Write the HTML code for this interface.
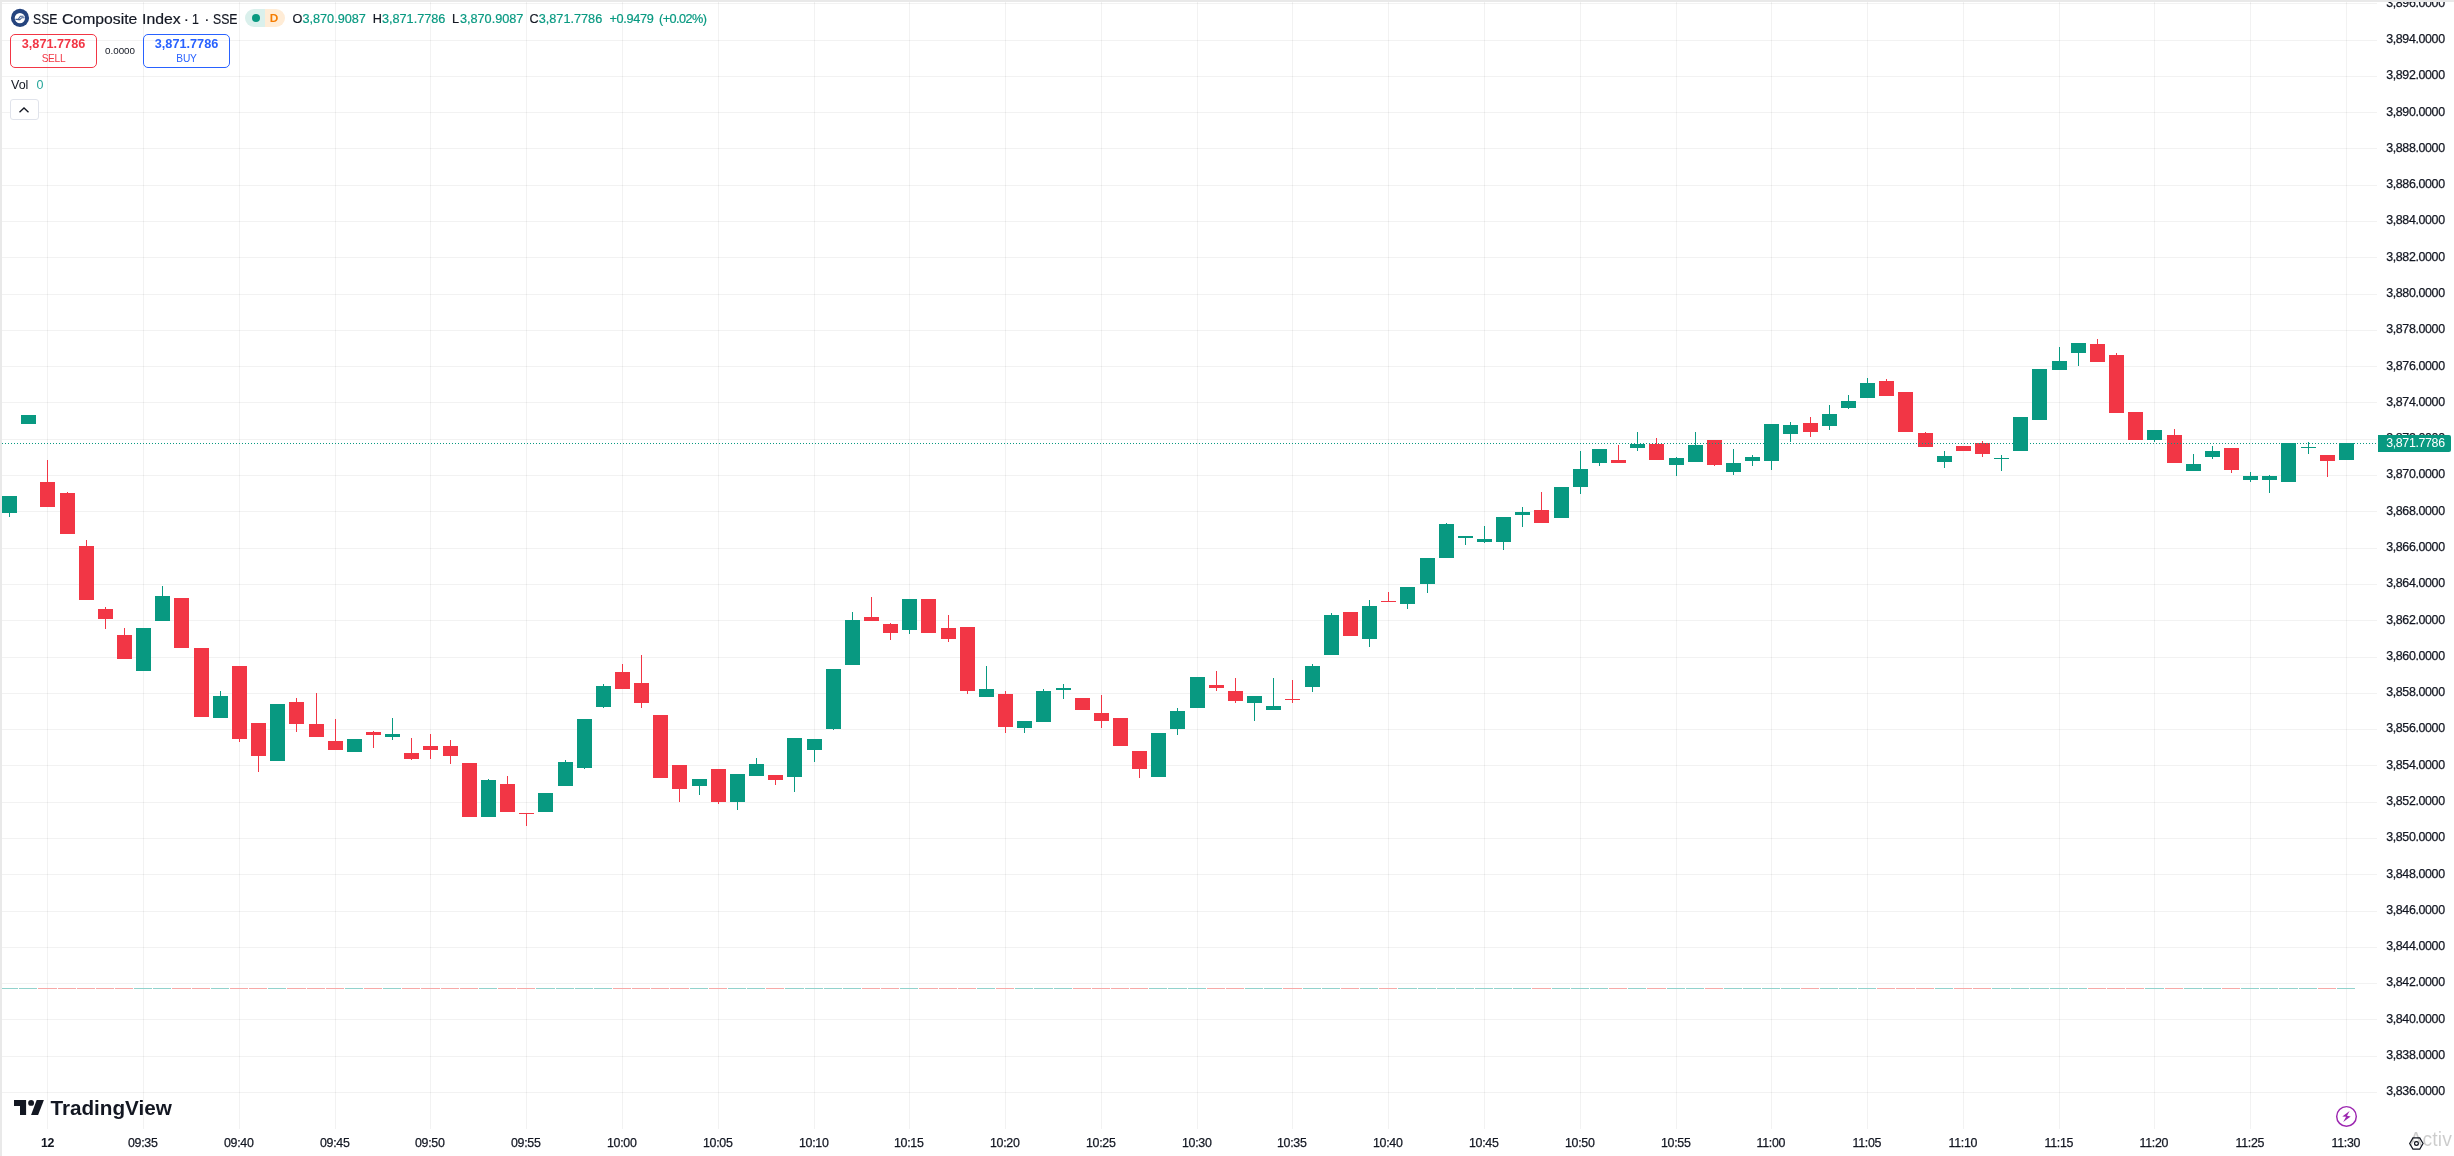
<!DOCTYPE html>
<html><head><meta charset="utf-8"><title>SSE Composite Index</title>
<style>

html,body{margin:0;padding:0;}
body{width:2454px;height:1156px;overflow:hidden;background:#fff;position:relative;
 font-family:"Liberation Sans",sans-serif;color:#131722;}
.abs{position:absolute;white-space:nowrap;}
.pl{position:absolute;left:2386px;width:60px;height:14px;line-height:14px;font-size:11.8px;color:#131722;white-space:nowrap;}
.tl{position:absolute;top:1135px;width:60px;height:16px;line-height:16px;font-size:11.8px;text-align:center;color:#131722;white-space:nowrap;}
.lg{position:absolute;top:10px;height:16px;line-height:16px;font-size:12.5px;white-space:nowrap;}
.g{color:#089981;}
svg{position:absolute;left:0;top:0;}

</style></head><body>
<svg width="2454" height="1156" viewBox="0 0 2454 1156" shape-rendering="crispEdges">
<g fill="#000" fill-opacity="0.052">
<rect x="2" y="3" width="2375" height="1"/>
<rect x="2" y="40" width="2375" height="1"/>
<rect x="2" y="76" width="2375" height="1"/>
<rect x="2" y="112" width="2375" height="1"/>
<rect x="2" y="148" width="2375" height="1"/>
<rect x="2" y="185" width="2375" height="1"/>
<rect x="2" y="221" width="2375" height="1"/>
<rect x="2" y="257" width="2375" height="1"/>
<rect x="2" y="294" width="2375" height="1"/>
<rect x="2" y="330" width="2375" height="1"/>
<rect x="2" y="366" width="2375" height="1"/>
<rect x="2" y="402" width="2375" height="1"/>
<rect x="2" y="439" width="2375" height="1"/>
<rect x="2" y="475" width="2375" height="1"/>
<rect x="2" y="511" width="2375" height="1"/>
<rect x="2" y="548" width="2375" height="1"/>
<rect x="2" y="584" width="2375" height="1"/>
<rect x="2" y="620" width="2375" height="1"/>
<rect x="2" y="657" width="2375" height="1"/>
<rect x="2" y="693" width="2375" height="1"/>
<rect x="2" y="729" width="2375" height="1"/>
<rect x="2" y="765" width="2375" height="1"/>
<rect x="2" y="802" width="2375" height="1"/>
<rect x="2" y="838" width="2375" height="1"/>
<rect x="2" y="874" width="2375" height="1"/>
<rect x="2" y="911" width="2375" height="1"/>
<rect x="2" y="947" width="2375" height="1"/>
<rect x="2" y="983" width="2375" height="1"/>
<rect x="2" y="1019" width="2375" height="1"/>
<rect x="2" y="1056" width="2375" height="1"/>
<rect x="2" y="1092" width="2375" height="1"/>
<rect x="47" y="2" width="1" height="1127"/>
<rect x="143" y="2" width="1" height="1127"/>
<rect x="239" y="2" width="1" height="1127"/>
<rect x="335" y="2" width="1" height="1127"/>
<rect x="430" y="2" width="1" height="1127"/>
<rect x="526" y="2" width="1" height="1127"/>
<rect x="622" y="2" width="1" height="1127"/>
<rect x="718" y="2" width="1" height="1127"/>
<rect x="814" y="2" width="1" height="1127"/>
<rect x="909" y="2" width="1" height="1127"/>
<rect x="1005" y="2" width="1" height="1127"/>
<rect x="1101" y="2" width="1" height="1127"/>
<rect x="1197" y="2" width="1" height="1127"/>
<rect x="1292" y="2" width="1" height="1127"/>
<rect x="1388" y="2" width="1" height="1127"/>
<rect x="1484" y="2" width="1" height="1127"/>
<rect x="1580" y="2" width="1" height="1127"/>
<rect x="1676" y="2" width="1" height="1127"/>
<rect x="1771" y="2" width="1" height="1127"/>
<rect x="1867" y="2" width="1" height="1127"/>
<rect x="1963" y="2" width="1" height="1127"/>
<rect x="2059" y="2" width="1" height="1127"/>
<rect x="2154" y="2" width="1" height="1127"/>
<rect x="2250" y="2" width="1" height="1127"/>
<rect x="2346" y="2" width="1" height="1127"/>
</g>
<g>
<rect x="2" y="988" width="16" height="1" fill="#92d2cc"/>
<rect x="19" y="988" width="18" height="1" fill="#92d2cc"/>
<rect x="38" y="988" width="19" height="1" fill="#f7a9a7"/>
<rect x="58" y="988" width="18" height="1" fill="#f7a9a7"/>
<rect x="77" y="988" width="18" height="1" fill="#f7a9a7"/>
<rect x="96" y="988" width="18" height="1" fill="#f7a9a7"/>
<rect x="115" y="988" width="18" height="1" fill="#f7a9a7"/>
<rect x="134" y="988" width="18" height="1" fill="#92d2cc"/>
<rect x="153" y="988" width="18" height="1" fill="#92d2cc"/>
<rect x="172" y="988" width="19" height="1" fill="#f7a9a7"/>
<rect x="192" y="988" width="18" height="1" fill="#f7a9a7"/>
<rect x="211" y="988" width="18" height="1" fill="#92d2cc"/>
<rect x="230" y="988" width="18" height="1" fill="#f7a9a7"/>
<rect x="249" y="988" width="18" height="1" fill="#f7a9a7"/>
<rect x="268" y="988" width="18" height="1" fill="#92d2cc"/>
<rect x="287" y="988" width="19" height="1" fill="#f7a9a7"/>
<rect x="307" y="988" width="18" height="1" fill="#f7a9a7"/>
<rect x="326" y="988" width="18" height="1" fill="#f7a9a7"/>
<rect x="345" y="988" width="18" height="1" fill="#92d2cc"/>
<rect x="364" y="988" width="18" height="1" fill="#f7a9a7"/>
<rect x="383" y="988" width="18" height="1" fill="#92d2cc"/>
<rect x="402" y="988" width="18" height="1" fill="#f7a9a7"/>
<rect x="421" y="988" width="19" height="1" fill="#f7a9a7"/>
<rect x="441" y="988" width="18" height="1" fill="#f7a9a7"/>
<rect x="460" y="988" width="18" height="1" fill="#f7a9a7"/>
<rect x="479" y="988" width="18" height="1" fill="#92d2cc"/>
<rect x="498" y="988" width="18" height="1" fill="#f7a9a7"/>
<rect x="517" y="988" width="18" height="1" fill="#f7a9a7"/>
<rect x="536" y="988" width="19" height="1" fill="#92d2cc"/>
<rect x="556" y="988" width="18" height="1" fill="#92d2cc"/>
<rect x="575" y="988" width="18" height="1" fill="#92d2cc"/>
<rect x="594" y="988" width="18" height="1" fill="#92d2cc"/>
<rect x="613" y="988" width="18" height="1" fill="#f7a9a7"/>
<rect x="632" y="988" width="18" height="1" fill="#f7a9a7"/>
<rect x="651" y="988" width="18" height="1" fill="#f7a9a7"/>
<rect x="670" y="988" width="19" height="1" fill="#f7a9a7"/>
<rect x="690" y="988" width="18" height="1" fill="#92d2cc"/>
<rect x="709" y="988" width="18" height="1" fill="#f7a9a7"/>
<rect x="728" y="988" width="18" height="1" fill="#92d2cc"/>
<rect x="747" y="988" width="18" height="1" fill="#92d2cc"/>
<rect x="766" y="988" width="18" height="1" fill="#f7a9a7"/>
<rect x="785" y="988" width="19" height="1" fill="#92d2cc"/>
<rect x="805" y="988" width="18" height="1" fill="#92d2cc"/>
<rect x="824" y="988" width="18" height="1" fill="#92d2cc"/>
<rect x="843" y="988" width="18" height="1" fill="#92d2cc"/>
<rect x="862" y="988" width="18" height="1" fill="#f7a9a7"/>
<rect x="881" y="988" width="18" height="1" fill="#f7a9a7"/>
<rect x="900" y="988" width="18" height="1" fill="#92d2cc"/>
<rect x="919" y="988" width="19" height="1" fill="#f7a9a7"/>
<rect x="939" y="988" width="18" height="1" fill="#f7a9a7"/>
<rect x="958" y="988" width="18" height="1" fill="#f7a9a7"/>
<rect x="977" y="988" width="18" height="1" fill="#92d2cc"/>
<rect x="996" y="988" width="18" height="1" fill="#f7a9a7"/>
<rect x="1015" y="988" width="18" height="1" fill="#92d2cc"/>
<rect x="1034" y="988" width="19" height="1" fill="#92d2cc"/>
<rect x="1054" y="988" width="18" height="1" fill="#92d2cc"/>
<rect x="1073" y="988" width="18" height="1" fill="#f7a9a7"/>
<rect x="1092" y="988" width="18" height="1" fill="#f7a9a7"/>
<rect x="1111" y="988" width="18" height="1" fill="#f7a9a7"/>
<rect x="1130" y="988" width="18" height="1" fill="#f7a9a7"/>
<rect x="1149" y="988" width="18" height="1" fill="#92d2cc"/>
<rect x="1168" y="988" width="19" height="1" fill="#92d2cc"/>
<rect x="1188" y="988" width="18" height="1" fill="#92d2cc"/>
<rect x="1207" y="988" width="18" height="1" fill="#f7a9a7"/>
<rect x="1226" y="988" width="18" height="1" fill="#f7a9a7"/>
<rect x="1245" y="988" width="18" height="1" fill="#92d2cc"/>
<rect x="1264" y="988" width="18" height="1" fill="#92d2cc"/>
<rect x="1283" y="988" width="19" height="1" fill="#f7a9a7"/>
<rect x="1303" y="988" width="18" height="1" fill="#92d2cc"/>
<rect x="1322" y="988" width="18" height="1" fill="#92d2cc"/>
<rect x="1341" y="988" width="18" height="1" fill="#f7a9a7"/>
<rect x="1360" y="988" width="18" height="1" fill="#92d2cc"/>
<rect x="1379" y="988" width="18" height="1" fill="#f7a9a7"/>
<rect x="1398" y="988" width="19" height="1" fill="#92d2cc"/>
<rect x="1418" y="988" width="18" height="1" fill="#92d2cc"/>
<rect x="1437" y="988" width="18" height="1" fill="#92d2cc"/>
<rect x="1456" y="988" width="18" height="1" fill="#92d2cc"/>
<rect x="1475" y="988" width="18" height="1" fill="#92d2cc"/>
<rect x="1494" y="988" width="18" height="1" fill="#92d2cc"/>
<rect x="1513" y="988" width="18" height="1" fill="#92d2cc"/>
<rect x="1532" y="988" width="19" height="1" fill="#f7a9a7"/>
<rect x="1552" y="988" width="18" height="1" fill="#92d2cc"/>
<rect x="1571" y="988" width="18" height="1" fill="#92d2cc"/>
<rect x="1590" y="988" width="18" height="1" fill="#92d2cc"/>
<rect x="1609" y="988" width="18" height="1" fill="#f7a9a7"/>
<rect x="1628" y="988" width="18" height="1" fill="#92d2cc"/>
<rect x="1647" y="988" width="19" height="1" fill="#f7a9a7"/>
<rect x="1667" y="988" width="18" height="1" fill="#92d2cc"/>
<rect x="1686" y="988" width="18" height="1" fill="#92d2cc"/>
<rect x="1705" y="988" width="18" height="1" fill="#f7a9a7"/>
<rect x="1724" y="988" width="18" height="1" fill="#92d2cc"/>
<rect x="1743" y="988" width="18" height="1" fill="#92d2cc"/>
<rect x="1762" y="988" width="18" height="1" fill="#92d2cc"/>
<rect x="1781" y="988" width="19" height="1" fill="#92d2cc"/>
<rect x="1801" y="988" width="18" height="1" fill="#f7a9a7"/>
<rect x="1820" y="988" width="18" height="1" fill="#92d2cc"/>
<rect x="1839" y="988" width="18" height="1" fill="#92d2cc"/>
<rect x="1858" y="988" width="18" height="1" fill="#92d2cc"/>
<rect x="1877" y="988" width="18" height="1" fill="#f7a9a7"/>
<rect x="1896" y="988" width="19" height="1" fill="#f7a9a7"/>
<rect x="1916" y="988" width="18" height="1" fill="#f7a9a7"/>
<rect x="1935" y="988" width="18" height="1" fill="#92d2cc"/>
<rect x="1954" y="988" width="18" height="1" fill="#f7a9a7"/>
<rect x="1973" y="988" width="18" height="1" fill="#f7a9a7"/>
<rect x="1992" y="988" width="18" height="1" fill="#92d2cc"/>
<rect x="2011" y="988" width="18" height="1" fill="#92d2cc"/>
<rect x="2030" y="988" width="19" height="1" fill="#92d2cc"/>
<rect x="2050" y="988" width="18" height="1" fill="#92d2cc"/>
<rect x="2069" y="988" width="18" height="1" fill="#92d2cc"/>
<rect x="2088" y="988" width="18" height="1" fill="#f7a9a7"/>
<rect x="2107" y="988" width="18" height="1" fill="#f7a9a7"/>
<rect x="2126" y="988" width="18" height="1" fill="#f7a9a7"/>
<rect x="2145" y="988" width="19" height="1" fill="#92d2cc"/>
<rect x="2165" y="988" width="18" height="1" fill="#f7a9a7"/>
<rect x="2184" y="988" width="18" height="1" fill="#92d2cc"/>
<rect x="2203" y="988" width="18" height="1" fill="#92d2cc"/>
<rect x="2222" y="988" width="18" height="1" fill="#f7a9a7"/>
<rect x="2241" y="988" width="18" height="1" fill="#92d2cc"/>
<rect x="2260" y="988" width="18" height="1" fill="#92d2cc"/>
<rect x="2279" y="988" width="19" height="1" fill="#92d2cc"/>
<rect x="2299" y="988" width="18" height="1" fill="#92d2cc"/>
<rect x="2318" y="988" width="18" height="1" fill="#f7a9a7"/>
<rect x="2337" y="988" width="18" height="1" fill="#92d2cc"/>
</g>
<g fill="#089981"><rect x="9" y="496" width="1" height="21"/><rect x="2" y="496" width="15" height="17"/></g>
<g fill="#089981"><rect x="21" y="415" width="15" height="9"/></g>
<g fill="#f23645"><rect x="47" y="460" width="1" height="47"/><rect x="40" y="482" width="15" height="25"/></g>
<g fill="#f23645"><rect x="67" y="492" width="1" height="42"/><rect x="60" y="493" width="15" height="41"/></g>
<g fill="#f23645"><rect x="86" y="540" width="1" height="60"/><rect x="79" y="546" width="15" height="54"/></g>
<g fill="#f23645"><rect x="105" y="607" width="1" height="22"/><rect x="98" y="609" width="15" height="10"/></g>
<g fill="#f23645"><rect x="124" y="628" width="1" height="31"/><rect x="117" y="635" width="15" height="24"/></g>
<g fill="#089981"><rect x="136" y="628" width="15" height="43"/></g>
<g fill="#089981"><rect x="162" y="586" width="1" height="35"/><rect x="155" y="596" width="15" height="25"/></g>
<g fill="#f23645"><rect x="174" y="598" width="15" height="50"/></g>
<g fill="#f23645"><rect x="194" y="648" width="15" height="69"/></g>
<g fill="#089981"><rect x="220" y="691" width="1" height="27"/><rect x="213" y="696" width="15" height="22"/></g>
<g fill="#f23645"><rect x="239" y="666" width="1" height="76"/><rect x="232" y="666" width="15" height="73"/></g>
<g fill="#f23645"><rect x="258" y="723" width="1" height="49"/><rect x="251" y="723" width="15" height="33"/></g>
<g fill="#089981"><rect x="270" y="704" width="15" height="57"/></g>
<g fill="#f23645"><rect x="296" y="698" width="1" height="34"/><rect x="289" y="702" width="15" height="22"/></g>
<g fill="#f23645"><rect x="316" y="693" width="1" height="44"/><rect x="309" y="724" width="15" height="13"/></g>
<g fill="#f23645"><rect x="335" y="719" width="1" height="31"/><rect x="328" y="741" width="15" height="9"/></g>
<g fill="#089981"><rect x="347" y="739" width="15" height="13"/></g>
<g fill="#f23645"><rect x="373" y="731" width="1" height="17"/><rect x="366" y="732" width="15" height="3"/></g>
<g fill="#089981"><rect x="392" y="718" width="1" height="22"/><rect x="385" y="734" width="15" height="3"/></g>
<g fill="#f23645"><rect x="411" y="738" width="1" height="22"/><rect x="404" y="753" width="15" height="6"/></g>
<g fill="#f23645"><rect x="430" y="734" width="1" height="25"/><rect x="423" y="746" width="15" height="4"/></g>
<g fill="#f23645"><rect x="450" y="740" width="1" height="24"/><rect x="443" y="746" width="15" height="10"/></g>
<g fill="#f23645"><rect x="462" y="763" width="15" height="54"/></g>
<g fill="#089981"><rect x="488" y="779" width="1" height="38"/><rect x="481" y="780" width="15" height="37"/></g>
<g fill="#f23645"><rect x="507" y="776" width="1" height="36"/><rect x="500" y="784" width="15" height="28"/></g>
<g fill="#f23645"><rect x="526" y="813" width="1" height="13"/><rect x="519" y="813" width="15" height="1"/></g>
<g fill="#089981"><rect x="538" y="793" width="15" height="19"/></g>
<g fill="#089981"><rect x="565" y="760" width="1" height="26"/><rect x="558" y="762" width="15" height="24"/></g>
<g fill="#089981"><rect x="584" y="719" width="1" height="50"/><rect x="577" y="719" width="15" height="49"/></g>
<g fill="#089981"><rect x="603" y="684" width="1" height="24"/><rect x="596" y="686" width="15" height="21"/></g>
<g fill="#f23645"><rect x="622" y="664" width="1" height="25"/><rect x="615" y="672" width="15" height="17"/></g>
<g fill="#f23645"><rect x="641" y="655" width="1" height="53"/><rect x="634" y="683" width="15" height="20"/></g>
<g fill="#f23645"><rect x="653" y="715" width="15" height="63"/></g>
<g fill="#f23645"><rect x="679" y="765" width="1" height="37"/><rect x="672" y="765" width="15" height="24"/></g>
<g fill="#089981"><rect x="699" y="779" width="1" height="16"/><rect x="692" y="779" width="15" height="7"/></g>
<g fill="#f23645"><rect x="718" y="769" width="1" height="35"/><rect x="711" y="769" width="15" height="33"/></g>
<g fill="#089981"><rect x="737" y="774" width="1" height="36"/><rect x="730" y="774" width="15" height="28"/></g>
<g fill="#089981"><rect x="756" y="758" width="1" height="18"/><rect x="749" y="764" width="15" height="12"/></g>
<g fill="#f23645"><rect x="775" y="775" width="1" height="10"/><rect x="768" y="775" width="15" height="5"/></g>
<g fill="#089981"><rect x="794" y="738" width="1" height="54"/><rect x="787" y="738" width="15" height="39"/></g>
<g fill="#089981"><rect x="814" y="739" width="1" height="23"/><rect x="807" y="739" width="15" height="11"/></g>
<g fill="#089981"><rect x="833" y="669" width="1" height="61"/><rect x="826" y="669" width="15" height="60"/></g>
<g fill="#089981"><rect x="852" y="612" width="1" height="53"/><rect x="845" y="620" width="15" height="45"/></g>
<g fill="#f23645"><rect x="871" y="597" width="1" height="24"/><rect x="864" y="617" width="15" height="4"/></g>
<g fill="#f23645"><rect x="890" y="623" width="1" height="17"/><rect x="883" y="624" width="15" height="9"/></g>
<g fill="#089981"><rect x="909" y="599" width="1" height="35"/><rect x="902" y="599" width="15" height="31"/></g>
<g fill="#f23645"><rect x="921" y="599" width="15" height="34"/></g>
<g fill="#f23645"><rect x="948" y="615" width="1" height="27"/><rect x="941" y="628" width="15" height="11"/></g>
<g fill="#f23645"><rect x="967" y="627" width="1" height="67"/><rect x="960" y="627" width="15" height="64"/></g>
<g fill="#089981"><rect x="986" y="666" width="1" height="31"/><rect x="979" y="689" width="15" height="8"/></g>
<g fill="#f23645"><rect x="1005" y="691" width="1" height="42"/><rect x="998" y="694" width="15" height="33"/></g>
<g fill="#089981"><rect x="1024" y="721" width="1" height="12"/><rect x="1017" y="721" width="15" height="7"/></g>
<g fill="#089981"><rect x="1043" y="689" width="1" height="33"/><rect x="1036" y="691" width="15" height="31"/></g>
<g fill="#089981"><rect x="1063" y="684" width="1" height="15"/><rect x="1056" y="688" width="15" height="2"/></g>
<g fill="#f23645"><rect x="1075" y="698" width="15" height="12"/></g>
<g fill="#f23645"><rect x="1101" y="695" width="1" height="33"/><rect x="1094" y="713" width="15" height="8"/></g>
<g fill="#f23645"><rect x="1113" y="718" width="15" height="28"/></g>
<g fill="#f23645"><rect x="1139" y="751" width="1" height="27"/><rect x="1132" y="751" width="15" height="18"/></g>
<g fill="#089981"><rect x="1151" y="733" width="15" height="44"/></g>
<g fill="#089981"><rect x="1177" y="708" width="1" height="27"/><rect x="1170" y="711" width="15" height="18"/></g>
<g fill="#089981"><rect x="1190" y="677" width="15" height="31"/></g>
<g fill="#f23645"><rect x="1216" y="671" width="1" height="20"/><rect x="1209" y="685" width="15" height="3"/></g>
<g fill="#f23645"><rect x="1235" y="678" width="1" height="25"/><rect x="1228" y="691" width="15" height="10"/></g>
<g fill="#089981"><rect x="1254" y="696" width="1" height="25"/><rect x="1247" y="696" width="15" height="7"/></g>
<g fill="#089981"><rect x="1273" y="678" width="1" height="32"/><rect x="1266" y="706" width="15" height="4"/></g>
<g fill="#f23645"><rect x="1292" y="680" width="1" height="23"/><rect x="1285" y="699" width="15" height="1"/></g>
<g fill="#089981"><rect x="1312" y="664" width="1" height="28"/><rect x="1305" y="666" width="15" height="21"/></g>
<g fill="#089981"><rect x="1331" y="613" width="1" height="42"/><rect x="1324" y="615" width="15" height="40"/></g>
<g fill="#f23645"><rect x="1343" y="612" width="15" height="24"/></g>
<g fill="#089981"><rect x="1369" y="600" width="1" height="47"/><rect x="1362" y="606" width="15" height="33"/></g>
<g fill="#f23645"><rect x="1388" y="592" width="1" height="10"/><rect x="1381" y="601" width="15" height="1"/></g>
<g fill="#089981"><rect x="1407" y="587" width="1" height="22"/><rect x="1400" y="587" width="15" height="17"/></g>
<g fill="#089981"><rect x="1427" y="558" width="1" height="35"/><rect x="1420" y="558" width="15" height="26"/></g>
<g fill="#089981"><rect x="1446" y="523" width="1" height="35"/><rect x="1439" y="524" width="15" height="34"/></g>
<g fill="#089981"><rect x="1465" y="536" width="1" height="9"/><rect x="1458" y="536" width="15" height="2"/></g>
<g fill="#089981"><rect x="1484" y="526" width="1" height="17"/><rect x="1477" y="539" width="15" height="3"/></g>
<g fill="#089981"><rect x="1503" y="517" width="1" height="33"/><rect x="1496" y="517" width="15" height="25"/></g>
<g fill="#089981"><rect x="1522" y="507" width="1" height="20"/><rect x="1515" y="512" width="15" height="3"/></g>
<g fill="#f23645"><rect x="1541" y="492" width="1" height="31"/><rect x="1534" y="510" width="15" height="13"/></g>
<g fill="#089981"><rect x="1554" y="487" width="15" height="31"/></g>
<g fill="#089981"><rect x="1580" y="451" width="1" height="43"/><rect x="1573" y="469" width="15" height="18"/></g>
<g fill="#089981"><rect x="1599" y="449" width="1" height="17"/><rect x="1592" y="449" width="15" height="14"/></g>
<g fill="#f23645"><rect x="1618" y="445" width="1" height="18"/><rect x="1611" y="460" width="15" height="3"/></g>
<g fill="#089981"><rect x="1637" y="432" width="1" height="19"/><rect x="1630" y="444" width="15" height="4"/></g>
<g fill="#f23645"><rect x="1656" y="438" width="1" height="22"/><rect x="1649" y="444" width="15" height="16"/></g>
<g fill="#089981"><rect x="1676" y="457" width="1" height="19"/><rect x="1669" y="458" width="15" height="7"/></g>
<g fill="#089981"><rect x="1695" y="432" width="1" height="30"/><rect x="1688" y="445" width="15" height="17"/></g>
<g fill="#f23645"><rect x="1714" y="440" width="1" height="26"/><rect x="1707" y="440" width="15" height="25"/></g>
<g fill="#089981"><rect x="1733" y="449" width="1" height="26"/><rect x="1726" y="463" width="15" height="9"/></g>
<g fill="#089981"><rect x="1752" y="455" width="1" height="11"/><rect x="1745" y="457" width="15" height="4"/></g>
<g fill="#089981"><rect x="1771" y="424" width="1" height="46"/><rect x="1764" y="424" width="15" height="37"/></g>
<g fill="#089981"><rect x="1790" y="422" width="1" height="20"/><rect x="1783" y="425" width="15" height="9"/></g>
<g fill="#f23645"><rect x="1810" y="417" width="1" height="20"/><rect x="1803" y="423" width="15" height="9"/></g>
<g fill="#089981"><rect x="1829" y="405" width="1" height="25"/><rect x="1822" y="414" width="15" height="12"/></g>
<g fill="#089981"><rect x="1848" y="395" width="1" height="14"/><rect x="1841" y="401" width="15" height="7"/></g>
<g fill="#089981"><rect x="1867" y="378" width="1" height="20"/><rect x="1860" y="383" width="15" height="15"/></g>
<g fill="#f23645"><rect x="1886" y="379" width="1" height="17"/><rect x="1879" y="381" width="15" height="15"/></g>
<g fill="#f23645"><rect x="1898" y="392" width="15" height="40"/></g>
<g fill="#f23645"><rect x="1925" y="432" width="1" height="15"/><rect x="1918" y="433" width="15" height="14"/></g>
<g fill="#089981"><rect x="1944" y="451" width="1" height="17"/><rect x="1937" y="456" width="15" height="6"/></g>
<g fill="#f23645"><rect x="1956" y="446" width="15" height="5"/></g>
<g fill="#f23645"><rect x="1982" y="441" width="1" height="16"/><rect x="1975" y="443" width="15" height="11"/></g>
<g fill="#089981"><rect x="2001" y="455" width="1" height="16"/><rect x="1994" y="458" width="15" height="1"/></g>
<g fill="#089981"><rect x="2013" y="417" width="15" height="34"/></g>
<g fill="#089981"><rect x="2032" y="369" width="15" height="51"/></g>
<g fill="#089981"><rect x="2059" y="347" width="1" height="23"/><rect x="2052" y="361" width="15" height="9"/></g>
<g fill="#089981"><rect x="2078" y="343" width="1" height="23"/><rect x="2071" y="343" width="15" height="10"/></g>
<g fill="#f23645"><rect x="2097" y="339" width="1" height="23"/><rect x="2090" y="344" width="15" height="18"/></g>
<g fill="#f23645"><rect x="2116" y="353" width="1" height="60"/><rect x="2109" y="355" width="15" height="58"/></g>
<g fill="#f23645"><rect x="2128" y="412" width="15" height="28"/></g>
<g fill="#089981"><rect x="2154" y="430" width="1" height="12"/><rect x="2147" y="430" width="15" height="10"/></g>
<g fill="#f23645"><rect x="2174" y="429" width="1" height="34"/><rect x="2167" y="435" width="15" height="28"/></g>
<g fill="#089981"><rect x="2193" y="454" width="1" height="17"/><rect x="2186" y="464" width="15" height="7"/></g>
<g fill="#089981"><rect x="2212" y="446" width="1" height="13"/><rect x="2205" y="451" width="15" height="6"/></g>
<g fill="#f23645"><rect x="2231" y="448" width="1" height="25"/><rect x="2224" y="448" width="15" height="22"/></g>
<g fill="#089981"><rect x="2250" y="472" width="1" height="10"/><rect x="2243" y="476" width="15" height="4"/></g>
<g fill="#089981"><rect x="2269" y="475" width="1" height="18"/><rect x="2262" y="476" width="15" height="4"/></g>
<g fill="#089981"><rect x="2281" y="443" width="15" height="39"/></g>
<g fill="#089981"><rect x="2308" y="442" width="1" height="12"/><rect x="2301" y="447" width="15" height="1"/></g>
<g fill="#f23645"><rect x="2327" y="455" width="1" height="22"/><rect x="2320" y="455" width="15" height="6"/></g>
<g fill="#089981"><rect x="2339" y="443" width="15" height="17"/></g>
<line x1="2" y1="443.5" x2="2377" y2="443.5" stroke="#089981" stroke-width="1" stroke-dasharray="1 2"/>
</svg>
<div id="ov" style="position:absolute;left:0;top:0;width:2454px;height:1156px;will-change:transform;">
<div class="abs" style="left:2386.20px;top:-5.36px;width:200px;height:16px;line-height:16px;font-size:12.4px;color:#131722;text-align:left;letter-spacing:-0.35px;-webkit-text-stroke:0.25px #131722;">3,896.0000</div>
<div class="abs" style="left:2386.20px;top:30.93px;width:200px;height:16px;line-height:16px;font-size:12.4px;color:#131722;text-align:left;letter-spacing:-0.35px;-webkit-text-stroke:0.25px #131722;">3,894.0000</div>
<div class="abs" style="left:2386.20px;top:67.22px;width:200px;height:16px;line-height:16px;font-size:12.4px;color:#131722;text-align:left;letter-spacing:-0.35px;-webkit-text-stroke:0.25px #131722;">3,892.0000</div>
<div class="abs" style="left:2386.20px;top:103.51px;width:200px;height:16px;line-height:16px;font-size:12.4px;color:#131722;text-align:left;letter-spacing:-0.35px;-webkit-text-stroke:0.25px #131722;">3,890.0000</div>
<div class="abs" style="left:2386.20px;top:139.80px;width:200px;height:16px;line-height:16px;font-size:12.4px;color:#131722;text-align:left;letter-spacing:-0.35px;-webkit-text-stroke:0.25px #131722;">3,888.0000</div>
<div class="abs" style="left:2386.20px;top:176.09px;width:200px;height:16px;line-height:16px;font-size:12.4px;color:#131722;text-align:left;letter-spacing:-0.35px;-webkit-text-stroke:0.25px #131722;">3,886.0000</div>
<div class="abs" style="left:2386.20px;top:212.38px;width:200px;height:16px;line-height:16px;font-size:12.4px;color:#131722;text-align:left;letter-spacing:-0.35px;-webkit-text-stroke:0.25px #131722;">3,884.0000</div>
<div class="abs" style="left:2386.20px;top:248.67px;width:200px;height:16px;line-height:16px;font-size:12.4px;color:#131722;text-align:left;letter-spacing:-0.35px;-webkit-text-stroke:0.25px #131722;">3,882.0000</div>
<div class="abs" style="left:2386.20px;top:284.96px;width:200px;height:16px;line-height:16px;font-size:12.4px;color:#131722;text-align:left;letter-spacing:-0.35px;-webkit-text-stroke:0.25px #131722;">3,880.0000</div>
<div class="abs" style="left:2386.20px;top:321.25px;width:200px;height:16px;line-height:16px;font-size:12.4px;color:#131722;text-align:left;letter-spacing:-0.35px;-webkit-text-stroke:0.25px #131722;">3,878.0000</div>
<div class="abs" style="left:2386.20px;top:357.54px;width:200px;height:16px;line-height:16px;font-size:12.4px;color:#131722;text-align:left;letter-spacing:-0.35px;-webkit-text-stroke:0.25px #131722;">3,876.0000</div>
<div class="abs" style="left:2386.20px;top:393.83px;width:200px;height:16px;line-height:16px;font-size:12.4px;color:#131722;text-align:left;letter-spacing:-0.35px;-webkit-text-stroke:0.25px #131722;">3,874.0000</div>
<div class="abs" style="left:2386.20px;top:430.12px;width:200px;height:16px;line-height:16px;font-size:12.4px;color:#131722;text-align:left;letter-spacing:-0.35px;-webkit-text-stroke:0.25px #131722;">3,872.0000</div>
<div class="abs" style="left:2386.20px;top:466.41px;width:200px;height:16px;line-height:16px;font-size:12.4px;color:#131722;text-align:left;letter-spacing:-0.35px;-webkit-text-stroke:0.25px #131722;">3,870.0000</div>
<div class="abs" style="left:2386.20px;top:502.70px;width:200px;height:16px;line-height:16px;font-size:12.4px;color:#131722;text-align:left;letter-spacing:-0.35px;-webkit-text-stroke:0.25px #131722;">3,868.0000</div>
<div class="abs" style="left:2386.20px;top:538.99px;width:200px;height:16px;line-height:16px;font-size:12.4px;color:#131722;text-align:left;letter-spacing:-0.35px;-webkit-text-stroke:0.25px #131722;">3,866.0000</div>
<div class="abs" style="left:2386.20px;top:575.28px;width:200px;height:16px;line-height:16px;font-size:12.4px;color:#131722;text-align:left;letter-spacing:-0.35px;-webkit-text-stroke:0.25px #131722;">3,864.0000</div>
<div class="abs" style="left:2386.20px;top:611.57px;width:200px;height:16px;line-height:16px;font-size:12.4px;color:#131722;text-align:left;letter-spacing:-0.35px;-webkit-text-stroke:0.25px #131722;">3,862.0000</div>
<div class="abs" style="left:2386.20px;top:647.86px;width:200px;height:16px;line-height:16px;font-size:12.4px;color:#131722;text-align:left;letter-spacing:-0.35px;-webkit-text-stroke:0.25px #131722;">3,860.0000</div>
<div class="abs" style="left:2386.20px;top:684.15px;width:200px;height:16px;line-height:16px;font-size:12.4px;color:#131722;text-align:left;letter-spacing:-0.35px;-webkit-text-stroke:0.25px #131722;">3,858.0000</div>
<div class="abs" style="left:2386.20px;top:720.44px;width:200px;height:16px;line-height:16px;font-size:12.4px;color:#131722;text-align:left;letter-spacing:-0.35px;-webkit-text-stroke:0.25px #131722;">3,856.0000</div>
<div class="abs" style="left:2386.20px;top:756.73px;width:200px;height:16px;line-height:16px;font-size:12.4px;color:#131722;text-align:left;letter-spacing:-0.35px;-webkit-text-stroke:0.25px #131722;">3,854.0000</div>
<div class="abs" style="left:2386.20px;top:793.02px;width:200px;height:16px;line-height:16px;font-size:12.4px;color:#131722;text-align:left;letter-spacing:-0.35px;-webkit-text-stroke:0.25px #131722;">3,852.0000</div>
<div class="abs" style="left:2386.20px;top:829.31px;width:200px;height:16px;line-height:16px;font-size:12.4px;color:#131722;text-align:left;letter-spacing:-0.35px;-webkit-text-stroke:0.25px #131722;">3,850.0000</div>
<div class="abs" style="left:2386.20px;top:865.60px;width:200px;height:16px;line-height:16px;font-size:12.4px;color:#131722;text-align:left;letter-spacing:-0.35px;-webkit-text-stroke:0.25px #131722;">3,848.0000</div>
<div class="abs" style="left:2386.20px;top:901.89px;width:200px;height:16px;line-height:16px;font-size:12.4px;color:#131722;text-align:left;letter-spacing:-0.35px;-webkit-text-stroke:0.25px #131722;">3,846.0000</div>
<div class="abs" style="left:2386.20px;top:938.18px;width:200px;height:16px;line-height:16px;font-size:12.4px;color:#131722;text-align:left;letter-spacing:-0.35px;-webkit-text-stroke:0.25px #131722;">3,844.0000</div>
<div class="abs" style="left:2386.20px;top:974.47px;width:200px;height:16px;line-height:16px;font-size:12.4px;color:#131722;text-align:left;letter-spacing:-0.35px;-webkit-text-stroke:0.25px #131722;">3,842.0000</div>
<div class="abs" style="left:2386.20px;top:1010.76px;width:200px;height:16px;line-height:16px;font-size:12.4px;color:#131722;text-align:left;letter-spacing:-0.35px;-webkit-text-stroke:0.25px #131722;">3,840.0000</div>
<div class="abs" style="left:2386.20px;top:1047.05px;width:200px;height:16px;line-height:16px;font-size:12.4px;color:#131722;text-align:left;letter-spacing:-0.35px;-webkit-text-stroke:0.25px #131722;">3,838.0000</div>
<div class="abs" style="left:2386.20px;top:1083.34px;width:200px;height:16px;line-height:16px;font-size:12.4px;color:#131722;text-align:left;letter-spacing:-0.35px;-webkit-text-stroke:0.25px #131722;">3,836.0000</div>
<div class="abs" style="left:2378px;top:435px;width:73px;height:17px;background:#089981;border-radius:0 2px 2px 0;"></div>
<div class="abs" style="left:2386.20px;top:434.70px;width:200px;height:16px;line-height:16px;font-size:12.4px;color:#fff;text-align:left;letter-spacing:-0.35px;">3,871.7786</div>
<div class="abs" style="left:17.50px;top:1134.70px;width:60px;height:16px;line-height:16px;font-size:12.4px;color:#131722;text-align:center;font-weight:bold;letter-spacing:-0.4px;">12</div>
<div class="abs" style="left:112.80px;top:1134.70px;width:60px;height:16px;line-height:16px;font-size:12.4px;color:#131722;text-align:center;letter-spacing:-0.3px;-webkit-text-stroke:0.25px #131722;">09:35</div>
<div class="abs" style="left:208.80px;top:1134.70px;width:60px;height:16px;line-height:16px;font-size:12.4px;color:#131722;text-align:center;letter-spacing:-0.3px;-webkit-text-stroke:0.25px #131722;">09:40</div>
<div class="abs" style="left:304.80px;top:1134.70px;width:60px;height:16px;line-height:16px;font-size:12.4px;color:#131722;text-align:center;letter-spacing:-0.3px;-webkit-text-stroke:0.25px #131722;">09:45</div>
<div class="abs" style="left:399.80px;top:1134.70px;width:60px;height:16px;line-height:16px;font-size:12.4px;color:#131722;text-align:center;letter-spacing:-0.3px;-webkit-text-stroke:0.25px #131722;">09:50</div>
<div class="abs" style="left:495.80px;top:1134.70px;width:60px;height:16px;line-height:16px;font-size:12.4px;color:#131722;text-align:center;letter-spacing:-0.3px;-webkit-text-stroke:0.25px #131722;">09:55</div>
<div class="abs" style="left:591.80px;top:1134.70px;width:60px;height:16px;line-height:16px;font-size:12.4px;color:#131722;text-align:center;letter-spacing:-0.3px;-webkit-text-stroke:0.25px #131722;">10:00</div>
<div class="abs" style="left:687.80px;top:1134.70px;width:60px;height:16px;line-height:16px;font-size:12.4px;color:#131722;text-align:center;letter-spacing:-0.3px;-webkit-text-stroke:0.25px #131722;">10:05</div>
<div class="abs" style="left:783.80px;top:1134.70px;width:60px;height:16px;line-height:16px;font-size:12.4px;color:#131722;text-align:center;letter-spacing:-0.3px;-webkit-text-stroke:0.25px #131722;">10:10</div>
<div class="abs" style="left:878.80px;top:1134.70px;width:60px;height:16px;line-height:16px;font-size:12.4px;color:#131722;text-align:center;letter-spacing:-0.3px;-webkit-text-stroke:0.25px #131722;">10:15</div>
<div class="abs" style="left:974.80px;top:1134.70px;width:60px;height:16px;line-height:16px;font-size:12.4px;color:#131722;text-align:center;letter-spacing:-0.3px;-webkit-text-stroke:0.25px #131722;">10:20</div>
<div class="abs" style="left:1070.80px;top:1134.70px;width:60px;height:16px;line-height:16px;font-size:12.4px;color:#131722;text-align:center;letter-spacing:-0.3px;-webkit-text-stroke:0.25px #131722;">10:25</div>
<div class="abs" style="left:1166.80px;top:1134.70px;width:60px;height:16px;line-height:16px;font-size:12.4px;color:#131722;text-align:center;letter-spacing:-0.3px;-webkit-text-stroke:0.25px #131722;">10:30</div>
<div class="abs" style="left:1261.80px;top:1134.70px;width:60px;height:16px;line-height:16px;font-size:12.4px;color:#131722;text-align:center;letter-spacing:-0.3px;-webkit-text-stroke:0.25px #131722;">10:35</div>
<div class="abs" style="left:1357.80px;top:1134.70px;width:60px;height:16px;line-height:16px;font-size:12.4px;color:#131722;text-align:center;letter-spacing:-0.3px;-webkit-text-stroke:0.25px #131722;">10:40</div>
<div class="abs" style="left:1453.80px;top:1134.70px;width:60px;height:16px;line-height:16px;font-size:12.4px;color:#131722;text-align:center;letter-spacing:-0.3px;-webkit-text-stroke:0.25px #131722;">10:45</div>
<div class="abs" style="left:1549.80px;top:1134.70px;width:60px;height:16px;line-height:16px;font-size:12.4px;color:#131722;text-align:center;letter-spacing:-0.3px;-webkit-text-stroke:0.25px #131722;">10:50</div>
<div class="abs" style="left:1645.80px;top:1134.70px;width:60px;height:16px;line-height:16px;font-size:12.4px;color:#131722;text-align:center;letter-spacing:-0.3px;-webkit-text-stroke:0.25px #131722;">10:55</div>
<div class="abs" style="left:1740.80px;top:1134.70px;width:60px;height:16px;line-height:16px;font-size:12.4px;color:#131722;text-align:center;letter-spacing:-0.3px;-webkit-text-stroke:0.25px #131722;">11:00</div>
<div class="abs" style="left:1836.80px;top:1134.70px;width:60px;height:16px;line-height:16px;font-size:12.4px;color:#131722;text-align:center;letter-spacing:-0.3px;-webkit-text-stroke:0.25px #131722;">11:05</div>
<div class="abs" style="left:1932.80px;top:1134.70px;width:60px;height:16px;line-height:16px;font-size:12.4px;color:#131722;text-align:center;letter-spacing:-0.3px;-webkit-text-stroke:0.25px #131722;">11:10</div>
<div class="abs" style="left:2028.80px;top:1134.70px;width:60px;height:16px;line-height:16px;font-size:12.4px;color:#131722;text-align:center;letter-spacing:-0.3px;-webkit-text-stroke:0.25px #131722;">11:15</div>
<div class="abs" style="left:2123.80px;top:1134.70px;width:60px;height:16px;line-height:16px;font-size:12.4px;color:#131722;text-align:center;letter-spacing:-0.3px;-webkit-text-stroke:0.25px #131722;">11:20</div>
<div class="abs" style="left:2219.80px;top:1134.70px;width:60px;height:16px;line-height:16px;font-size:12.4px;color:#131722;text-align:center;letter-spacing:-0.3px;-webkit-text-stroke:0.25px #131722;">11:25</div>
<div class="abs" style="left:2315.80px;top:1134.70px;width:60px;height:16px;line-height:16px;font-size:12.4px;color:#131722;text-align:center;letter-spacing:-0.3px;-webkit-text-stroke:0.25px #131722;">11:30</div>
<div class="abs" style="left:0;top:0;width:2454px;height:2px;background:#e9e9e9"></div>
<div class="abs" style="left:0;top:0;width:2px;height:1156px;background:#e9e9e9"></div>
<svg width="40" height="36" viewBox="0 0 40 36" style="left:0;top:0">
<circle cx="20" cy="17.9" r="9.05" fill="#25447e"/>
<circle cx="19.9" cy="18.1" r="5.2" fill="#fff"/>
<path d="M15.4 19.4 L18.2 19.4 L20.4 16.3 L23.6 16.3 M17.6 19.6 L19.8 19.6 L21.8 17.7 L24.6 17.7" stroke="#25447e" stroke-width="1.1" fill="none" opacity="0.85"/>
</svg>
<div class="abs" style="left:32.55px;top:8.93px;width:200px;height:20px;line-height:20px;font-size:15.5px;color:#131722;text-align:left;-webkit-text-stroke:0.2px #131722;transform-origin:0 50%;transform:scaleX(0.79);">SSE</div>
<div class="abs" style="left:61.59px;top:8.93px;width:200px;height:20px;line-height:20px;font-size:15.5px;color:#131722;text-align:left;-webkit-text-stroke:0.2px #131722;transform-origin:0 50%;transform:scaleX(1.016);">Composite</div>
<div class="abs" style="left:142.09px;top:8.93px;width:200px;height:20px;line-height:20px;font-size:15.5px;color:#131722;text-align:left;-webkit-text-stroke:0.2px #131722;transform-origin:0 50%;transform:scaleX(1.02);">Index</div>
<div class="abs" style="left:183.70px;top:8.93px;width:200px;height:20px;line-height:20px;font-size:15.5px;color:#131722;text-align:left;-webkit-text-stroke:0.2px #131722;transform-origin:0 50%;transform:scaleX(1.0);">·</div>
<div class="abs" style="left:192.04px;top:8.93px;width:200px;height:20px;line-height:20px;font-size:15.5px;color:#131722;text-align:left;-webkit-text-stroke:0.2px #131722;transform-origin:0 50%;transform:scaleX(0.8);">1</div>
<div class="abs" style="left:204.30px;top:8.93px;width:200px;height:20px;line-height:20px;font-size:15.5px;color:#131722;text-align:left;-webkit-text-stroke:0.2px #131722;transform-origin:0 50%;transform:scaleX(1.0);">·</div>
<div class="abs" style="left:212.75px;top:8.93px;width:200px;height:20px;line-height:20px;font-size:15.5px;color:#131722;text-align:left;-webkit-text-stroke:0.2px #131722;transform-origin:0 50%;transform:scaleX(0.79);">SSE</div>
<div class="abs" style="left:245px;top:9px;width:20px;height:18px;background:#daf0ec;border-radius:9px 0 0 9px;"></div>
<div class="abs" style="left:265px;top:9px;width:20px;height:18px;background:#ffecd6;border-radius:0 9px 9px 0;"></div>
<div class="abs" style="left:252px;top:14px;width:8px;height:8px;border-radius:4px;background:#089981;"></div>
<div class="abs" style="left:264.10px;top:10.81px;width:20px;height:15px;line-height:15px;font-size:11.8px;color:#f57c00;text-align:center;font-weight:bold;">D</div>
<div class="abs" style="left:292.40px;top:11.00px;width:200px;height:17px;line-height:17px;font-size:12.7px;color:#131722;text-align:left;-webkit-text-stroke:0.2px #131722;">O</div>
<div class="abs" style="left:302.40px;top:11.00px;width:200px;height:17px;line-height:17px;font-size:12.7px;color:#089981;text-align:left;-webkit-text-stroke:0.2px #089981;">3,870.9087</div>
<div class="abs" style="left:372.80px;top:11.00px;width:200px;height:17px;line-height:17px;font-size:12.7px;color:#131722;text-align:left;-webkit-text-stroke:0.2px #131722;">H</div>
<div class="abs" style="left:381.90px;top:11.00px;width:200px;height:17px;line-height:17px;font-size:12.7px;color:#089981;text-align:left;-webkit-text-stroke:0.2px #089981;">3,871.7786</div>
<div class="abs" style="left:452.00px;top:11.00px;width:200px;height:17px;line-height:17px;font-size:12.7px;color:#131722;text-align:left;-webkit-text-stroke:0.2px #131722;">L</div>
<div class="abs" style="left:459.90px;top:11.00px;width:200px;height:17px;line-height:17px;font-size:12.7px;color:#089981;text-align:left;-webkit-text-stroke:0.2px #089981;">3,870.9087</div>
<div class="abs" style="left:529.50px;top:11.00px;width:200px;height:17px;line-height:17px;font-size:12.7px;color:#131722;text-align:left;-webkit-text-stroke:0.2px #131722;">C</div>
<div class="abs" style="left:538.70px;top:11.00px;width:200px;height:17px;line-height:17px;font-size:12.7px;color:#089981;text-align:left;-webkit-text-stroke:0.2px #089981;">3,871.7786</div>
<div class="abs" style="left:609.40px;top:11.00px;width:200px;height:17px;line-height:17px;font-size:12.7px;color:#089981;text-align:left;letter-spacing:-0.3px;-webkit-text-stroke:0.2px #089981;">+0.9479</div>
<div class="abs" style="left:659.00px;top:11.00px;width:200px;height:17px;line-height:17px;font-size:12.7px;color:#089981;text-align:left;letter-spacing:-0.55px;-webkit-text-stroke:0.2px #089981;">(+0.02%)</div>
<div class="abs" style="left:10px;top:34px;width:85px;height:32px;border:1px solid #f23645;border-radius:5px;"></div>
<div class="abs" style="left:10.00px;top:36.20px;width:87px;height:17px;line-height:17px;font-size:12.7px;color:#f23645;text-align:center;font-weight:bold;">3,871.7786</div>
<div class="abs" style="left:10.00px;top:51.97px;width:87px;height:13px;line-height:13px;font-size:10.2px;color:#f23645;text-align:center;letter-spacing:-0.3px;">SELL</div>
<div class="abs" style="left:143px;top:34px;width:85px;height:32px;border:1px solid #2962ff;border-radius:5px;"></div>
<div class="abs" style="left:143.00px;top:36.20px;width:87px;height:17px;line-height:17px;font-size:12.7px;color:#2962ff;text-align:center;font-weight:bold;">3,871.7786</div>
<div class="abs" style="left:143.00px;top:51.97px;width:87px;height:13px;line-height:13px;font-size:10.2px;color:#2962ff;text-align:center;letter-spacing:-0.2px;">BUY</div>
<div class="abs" style="left:97.00px;top:43.90px;width:46px;height:13px;line-height:13px;font-size:9.8px;color:#131722;text-align:center;">0.0000</div>
<div class="abs" style="left:11.00px;top:77.37px;width:200px;height:16px;line-height:16px;font-size:12.5px;color:#131722;text-align:left;">Vol</div>
<div class="abs" style="left:36.40px;top:77.37px;width:200px;height:16px;line-height:16px;font-size:12.5px;color:#26a69a;text-align:left;">0</div>
<div class="abs" style="left:10px;top:99px;width:26.5px;height:18.5px;border:1px solid #e0e3eb;border-radius:3px;background:#fff;"></div>
<svg width="12" height="8" viewBox="0 0 12 8" style="left:18.3px;top:105.8px;shape-rendering:auto"><path d="M1.5 6.2 L6 2 L10.5 6.2" stroke="#131722" stroke-width="1.3" fill="none"/></svg>
<svg width="180" height="30" viewBox="0 0 180 30" style="left:0;top:1092px">
<g fill="#131722">
<path d="M14 8 H26.1 V23 H20 V14 H14 Z"/>
<circle cx="31.1" cy="10.9" r="2.95"/>
<path d="M36.7 8 H43.9 L38.1 23 H31.1 Z"/>
</g></svg>
<div class="abs" style="left:50.40px;top:1094.23px;width:200px;height:27px;line-height:27px;font-size:20.7px;color:#131722;text-align:left;font-weight:bold;">TradingView</div>
<svg width="32" height="32" viewBox="0 0 32 32" style="left:2331px;top:1101px">
<g transform="translate(0.5 0.44)">
<circle cx="15" cy="15" r="12" fill="#fff"/>
<circle cx="15" cy="15" r="9.8" fill="#fff" stroke="#9c27b0" stroke-width="1.45"/>
<path d="M18.1 9.6 L10.8 15.0 L14.6 15.35 L11.7 20.45 L19.2 14.95 L15.5 14.4 Z" fill="#9c27b0"/>
</g></svg>
<svg width="22" height="22" viewBox="0 0 22 22" style="left:2406px;top:1133px">
<g transform="translate(10.35 10.45)" fill="none" stroke="#131722" stroke-width="1.2">
<path d="M-6.7 0 L-3.4 -5.6 H3.4 L6.7 0 L3.4 5.6 H-3.4 Z"/>
<circle cx="0.1" cy="0" r="1.9"/>
</g></svg>
<div class="abs" style="left:2409.50px;top:1126.71px;width:200px;height:25px;line-height:25px;font-size:19.3px;color:rgba(0,0,0,0.2);text-align:left;letter-spacing:0.15px;">Activ</div>
</div>
</body></html>
